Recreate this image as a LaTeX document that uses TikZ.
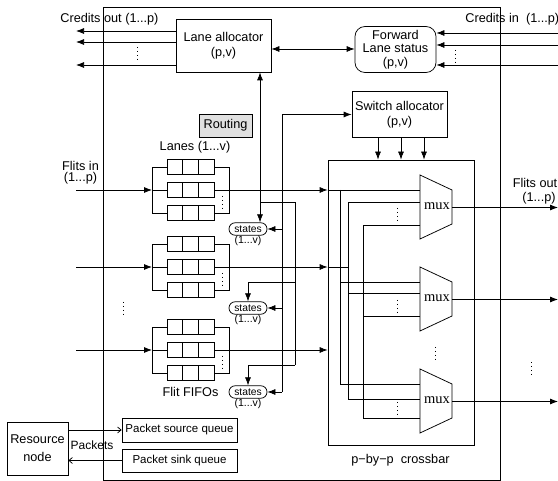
\documentclass[tikz,border=0pt]{standalone}
\usepackage{fontspec}
\setmainfont{Liberation Sans}
\newfontfamily\muxfont{Liberation Serif}
\usetikzlibrary{arrows.meta}
\tikzset{
  blk/.style={draw, inner sep=0pt, align=center, font=\fontsize{12.7}{15}\selectfont},
  lbl/.style={inner sep=0pt, align=center, font=\fontsize{12.7}{15}\selectfont},
  smlbl/.style={inner sep=0pt, font=\fontsize{10.5}{12}\selectfont},
  pill/.style={draw, rounded corners=6.2pt, minimum width=38pt, minimum height=12.5pt, inner sep=0pt, font=\fontsize{10.3}{12}\selectfont},
  arr/.style={-{Latex[length=8pt,width=6pt]}},
  biarr/.style={{Latex[length=8pt,width=6pt]}-{Latex[length=8pt,width=6pt]}},
  oarr/.style={-{Straight Barb[length=3.5pt,width=6pt]}},
  vdts/.style={dash pattern=on 0.9pt off 3pt, line width=0.9pt},
  muxlbl/.style={inner sep=0pt, font=\muxfont\fontsize{14.5}{15}\selectfont},
  fifogrp/.pic={
    \foreach \dy in {-23,0,23} {
      \draw (15,\dy-7.5) rectangle (62,\dy+7.5);
      \draw (30.67,\dy-7.5) -- (30.67,\dy+7.5);
      \draw (46.33,\dy-7.5) -- (46.33,\dy+7.5);
    }
    \draw (15,-23) -- (0,-23) -- (0,23) -- (15,23);
    \draw (62,-23) -- (77,-23) -- (77,23) -- (62,23);
    \draw (0,0) -- (15,0);
    \draw[vdts] (70,6) -- (70,20);
    \coordinate (-in) at (0,0);
    \coordinate (-out) at (62,0);
  }
}
\begin{document}
\begin{tikzpicture}[x=1pt,y=-1pt,line width=0.75pt]
\useasboundingbox (0,0) rectangle (558,481);
% router outline
\node[draw, minimum width=397, minimum height=473, inner sep=0] (rt) at (301.5,243.5) {};
% main blocks
\node[blk, minimum width=95, minimum height=53] (la) at (223.5,45.5) {Lane allocator\\(p,v)};
\node[blk, rounded corners=10pt, minimum width=81, minimum height=46, font=\fontsize{12.7}{13.5}\selectfont] (fls) at (395.5,49.5) {Forward\\Lane status\\(p,v)};
\node[blk, minimum width=95, minimum height=46] (sa) at (399.5,114.5) {Switch allocator\\(p,v)};
\node[blk, fill=black!12, minimum width=53, minimum height=23] (rtg) at (225.5,125.5) {Routing};
\node[draw, minimum width=146, minimum height=285, inner sep=0] (xb) at (401,302.5) {};
% labels
\node[lbl, anchor=west] (lco) at (60,19) {Credits out (1...p)};
\node[lbl, anchor=west] (lci) at (465,19) {Credits in\ \ (1...p)};
\node[lbl] (llanes) at (195,147) {Lanes (1...v)};
\node[lbl, font=\fontsize{12.7}{11.5}\selectfont] (lfin) at (80.5,172.5) {Flits in\\(1...p)};
\node[lbl] (lfout) at (535,183) {Flits out};
\node[lbl] (lfout2) at (539,198) {(1...p)};
\node[lbl] (lfifo) at (190.5,392) {Flit FIFOs};
\node[lbl] (lxb) at (400.5,460) {p−by−p\ \ crossbar};
% credits out
\foreach \y in {31,42,65} {
  \coordinate (co\y) at (76,\y);
  \draw[arr] (la.west |- co\y) -- (co\y);
}
\draw[vdts] (137,47) -- (137,59);
% credits in
\foreach \y in {33,45,65} {
  \coordinate (ci\y) at (558,\y);
  \draw[arr] (ci\y) -- (fls.east |- ci\y);
}
\draw[vdts] (455,50) -- (455,63);
% LA <-> FLS
\draw[biarr] (la.east |- 0,49) -- (fls.west |- 0,49);
% SA -> crossbar
\foreach \x in {378,401,424} \draw[arr] (sa.south -| \x,0) -- (xb.north -| \x,0);
% FIFO groups
\pic (g1) at (152,190) {fifogrp};
\pic (g2) at (152,267) {fifogrp};
\pic (g3) at (152,350) {fifogrp};
\coordinate (fi1) at (76,190);
\coordinate (fi2) at (76,267);
\coordinate (fi3) at (76,350);
\foreach \i in {1,2,3} {
  \draw[arr] (fi\i) -- (g\i-in);
  \draw[arr] (g\i-out) -- (g\i-out -| xb.west);
}
\draw[vdts] (123,302) -- (123,314);
% states
\node[pill] (s1) at (248,229) {states};
\node[smlbl] (s1l) at (248,241) {(1...v)};
\node[pill] (s2) at (248,308) {states};
\node[smlbl] (s2l) at (248,320) {(1...v)};
\node[pill] (s3) at (248,392) {states};
\node[smlbl] (s3l) at (248,404) {(1...v)};
% lane allocator <-> states
\draw[biarr] (la.south -| 260,0) -- (s1.north -| 260,0);
\coordinate (j1) at (260,202);
\coordinate (j2) at (295,282);
\coordinate (j3) at (295,365);
\draw (j1) -- (295,202) -- (j3);
\draw[arr] (j2) -| (s2.north);
\draw[arr] (j3) -| (s3.north);
% switch allocator <-> states
\coordinate (b1) at (282,392);
\draw[arr] (b1) |- (sa.west);
\foreach \s in {s1,s2,s3} \draw[arr] (\s.east -| b1) -- (\s.east);
% muxes
\foreach \n/\t in {1/175, 2/267, 3/369} {
  \draw (420,\t) -- (452,\t+15) -- (452,\t+49) -- (420,\t+64) -- cycle;
  \node[muxlbl] (mx\n) at (437,\t+31) {mux};
  \coordinate (mo\n) at (558,\t+32.5);
  \draw[arr] (452,\t+32.5) -- (mo\n);
  \draw[vdts] (397,\t+33) -- (397,\t+45);
}
% crossbar internal wiring
\draw (g1-out -| xb.west) -- (420,190);
\draw (340,190) -- (340,384) -- (420,384);
\draw (340,282) -- (420,282);
\draw (g2-out -| xb.west) -- (348,267);
\draw (420,202) -- (348,202) -- (348,399) -- (420,399);
\draw (348,293) -- (420,293);
\draw (420,225) -- (363,225) -- (363,418) -- (420,418);
\draw (363,316) -- (420,316);
\draw[vdts] (435,347) -- (435,359);
\draw[vdts] (531,362) -- (531,374);
% resource node and packet queues
\node[blk, minimum width=61, minimum height=53, font=\fontsize{12.7}{18}\selectfont] (res) at (37.5,448.5) {Resource\\node};
\node[blk, minimum width=115, minimum height=24, font=\fontsize{11.5}{13}\selectfont] (psq) at (179.5,430) {Packet source queue};
\node[blk, minimum width=115, minimum height=23, font=\fontsize{11.5}{13}\selectfont] (pkq) at (179.5,460.5) {Packet sink queue};
\draw[oarr] (res.east |- psq.west) -- (psq.west);
\draw[oarr] (pkq.west) -- (res.east |- pkq.west);
\node[lbl, font=\fontsize{12}{13}\selectfont] (lpk) at (92,445) {Packets};
\end{tikzpicture}
\end{document}
